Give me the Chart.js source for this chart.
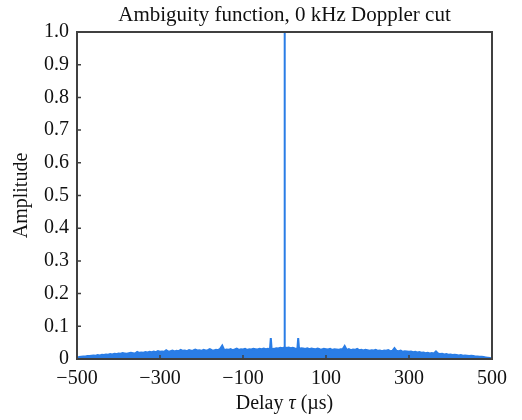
<!DOCTYPE html>
<html>
<head>
<meta charset="utf-8">
<script src="https://cdn.jsdelivr.net/npm/chart.js@4"></script>
<style>
  html, body { margin: 0; padding: 0; background: #fff; }
  #wrap { width: 522px; height: 420px; }
</style>
</head>
<body>
<div id="wrap"><canvas id="c" width="522" height="420"></canvas></div>
<script>
// Delay (µs) samples of the zero-Doppler cut
const delayUs = [
  -500,-495,-490,-485,-480,-475,-470,-465,-460,-455,
  -450,-445,-440,-435,-430,-425,-420,-415,-410,-405,
  -400,-395,-390,-385,-380,-375,-370,-365,-360,-355,
  -350,-345,-340,-335,-330,-325,-320,-315,-310,-305,
  -300,-295,-290,-285,-280,-275,-270,-265,-260,-255,
  -250,-245,-240,-235,-230,-225,-220,-215,-210,-205,
  -200,-195,-190,-185,-180,-175,-170,-165,-160,-155,
  -150,-145,-140,-135,-130,-125,-120,-115,-110,-105,
  -100,-95,-90,-85,-80,-75,-70,-65,-60,-55,
  -50,-45,-40,-35,-33,-31,-25,-20,-15,-10,
  -5,-1,0,1,5,10,15,20,25,31,
  33,35,40,45,50,55,60,65,70,75,
  80,85,90,95,100,105,110,115,120,125,
  130,135,140,145,150,155,160,165,170,175,
  180,185,190,195,200,205,210,215,220,225,
  230,235,240,245,250,255,260,265,270,275,
  280,285,290,295,300,305,310,315,320,325,
  330,335,340,345,350,355,360,365,370,375,
  380,385,390,395,400,405,410,415,420,425,
  430,435,440,445,450,455,460,465,470,475,
  480,485,490,495,500
];
// Amplitude (normalised)
const amplitude = [
  0.003,0.006,0.007,0.008,0.008,0.009,0.009,0.010,0.011,0.010,
  0.012,0.011,0.013,0.012,0.014,0.013,0.015,0.014,0.016,0.015,
  0.017,0.016,0.018,0.017,0.016,0.018,0.019,0.018,0.017,0.022,
  0.019,0.020,0.019,0.021,0.020,0.022,0.021,0.023,0.021,0.024,
  0.022,0.023,0.022,0.027,0.023,0.024,0.026,0.023,0.025,0.024,
  0.028,0.025,0.026,0.024,0.027,0.025,0.026,0.029,0.026,0.027,
  0.025,0.028,0.026,0.027,0.030,0.027,0.026,0.028,0.027,0.031,
  0.041,0.027,0.029,0.028,0.030,0.027,0.029,0.032,0.028,0.030,
  0.029,0.031,0.028,0.030,0.029,0.031,0.030,0.029,0.031,0.030,
  0.032,0.030,0.031,0.030,0.064,0.030,0.031,0.033,0.032,0.034,
  0.033,0.035,1.000,0.036,0.034,0.035,0.033,0.034,0.032,0.031,
  0.064,0.031,0.033,0.032,0.031,0.033,0.030,0.032,0.031,0.030,
  0.032,0.030,0.029,0.031,0.030,0.029,0.031,0.028,0.030,0.029,
  0.028,0.030,0.030,0.040,0.028,0.030,0.027,0.029,0.028,0.031,
  0.027,0.028,0.026,0.028,0.027,0.025,0.027,0.026,0.028,0.025,
  0.026,0.024,0.026,0.025,0.027,0.024,0.025,0.033,0.025,0.024,
  0.026,0.022,0.024,0.023,0.022,0.023,0.021,0.022,0.020,0.021,
  0.019,0.020,0.018,0.019,0.017,0.018,0.017,0.023,0.017,0.015,
  0.016,0.014,0.015,0.013,0.014,0.012,0.013,0.012,0.011,0.012,
  0.010,0.011,0.010,0.009,0.010,0.009,0.008,0.008,0.007,0.007,
  0.006,0.005,0.004,0.003,0.001
];
const xTickValues = [-500, -300, -100, 100, 300, 500];
const yTickValues = [0, 0.1, 0.2, 0.3, 0.4, 0.5, 0.6, 0.7, 0.8, 0.9, 1.0];
const titleText = 'Ambiguity function, 0 kHz Doppler cut';
const yTitleText = 'Amplitude';

const FONT = "'Liberation Serif', 'Times New Roman', serif";
const LINE_COLOR = '#2a7de6';
const AXIS_COLOR = '#404040';

const points = delayUs.map((x, i) => ({ x: x, y: amplitude[i] }));

const framePlugin = {
  id: 'frame',
  afterDatasetsDraw(chart) {
    const { ctx, chartArea: a, scales } = chart;
    ctx.save();
    ctx.strokeStyle = AXIS_COLOR;
    ctx.lineWidth = 1.5;
    // inward ticks
    ctx.beginPath();
    scales.y.ticks.forEach(t => {
      const py = scales.y.getPixelForValue(t.value);
      ctx.moveTo(a.left, py); ctx.lineTo(a.left + 4, py);
    });
    scales.x.ticks.forEach(t => {
      const px = scales.x.getPixelForValue(t.value);
      ctx.moveTo(px, a.bottom); ctx.lineTo(px, a.bottom - 4);
    });
    ctx.stroke();
    ctx.lineWidth = 2;
    ctx.strokeRect(a.left, a.top, a.right - a.left, a.bottom - a.top);
    const cx = (a.left + a.right) / 2;
    ctx.fillStyle = '#111';
    ctx.textBaseline = 'alphabetic';
    // chart title centred over the plot area
    ctx.font = '21px ' + FONT;
    ctx.textAlign = 'center';
    ctx.fillText(titleText, cx, 21);
    // x-axis title with italic tau
    const parts = [
      { t: 'Delay ', f: '20px ' + FONT },
      { t: '\u03C4', f: 'italic 20px ' + FONT },
      { t: ' (\u00B5s)', f: '20px ' + FONT }
    ];
    let total = 0;
    parts.forEach(p => { ctx.font = p.f; p.w = ctx.measureText(p.t).width; total += p.w; });
    let x = cx - total / 2;
    ctx.textAlign = 'left';
    parts.forEach(p => { ctx.font = p.f; ctx.fillText(p.t, x, 409); x += p.w; });
    ctx.restore();
  }
};

new Chart(document.getElementById('c'), {
  type: 'line',
  data: {
    datasets: [{
      data: points,
      borderColor: LINE_COLOR,
      backgroundColor: LINE_COLOR,
      borderWidth: 2,
      pointRadius: 0,
      fill: 'origin',
      tension: 0
    }]
  },
  options: {
    responsive: false,
    animation: false,
    devicePixelRatio: 1,
    layout: { padding: { left: 0, right: 30, top: 32, bottom: 0 } },
    plugins: {
      legend: { display: false },
      tooltip: { enabled: false },
      title: { display: false }
    },
    scales: {
      x: {
        type: 'linear',
        min: -500, max: 500,
        grid: { display: false, drawTicks: false },
        border: { display: false },
        afterBuildTicks: s => { s.ticks = xTickValues.map(v => ({ value: v })); },
        afterFit: s => { s.height = 61; },
        ticks: {
          color: '#111',
          padding: 8,
          maxRotation: 0,
          autoSkip: false,
          font: { family: FONT, size: 20 },
          callback: v => String(v).replace('-', '\u2212')
        }
      },
      y: {
        min: 0, max: 1,
        grid: { display: false, drawTicks: false },
        border: { display: false },
        afterBuildTicks: s => { s.ticks = yTickValues.map(v => ({ value: v })); },
        afterFit: s => { s.width = 77; },
        title: {
          display: true,
          text: yTitleText,
          color: '#111',
          font: { family: FONT, size: 20 },
          padding: { top: 10, bottom: 0 }
        },
        ticks: {
          color: '#111',
          padding: 8,
          autoSkip: false,
          font: { family: FONT, size: 20 },
          callback: v => (v === 0 ? '0' : v.toFixed(1))
        }
      }
    }
  },
  plugins: [framePlugin]
});
</script>
</body>
</html>
